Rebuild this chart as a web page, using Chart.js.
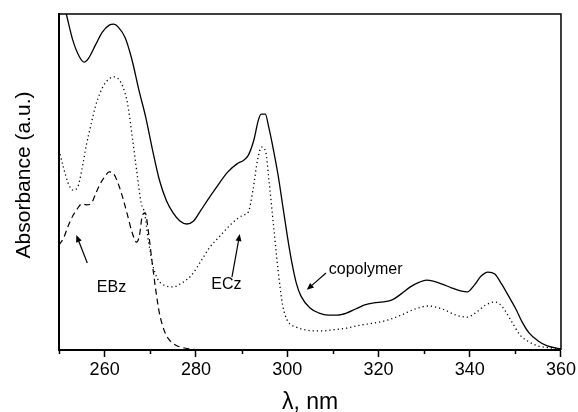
<!DOCTYPE html>
<html><head><meta charset="utf-8">
<script src="https://cdn.jsdelivr.net/npm/chart.js@4/dist/chart.umd.min.js"></script>
<style>html,body{margin:0;padding:0;background:#fff}#wrap{width:578px;height:412px;position:relative}</style>
</head><body><div id="wrap"><canvas id="c" width="578" height="412"></canvas></div>
<script>
// ---- data ----
const copolymerNm  = [250,251.6,253,254.5,255.5,256.5,258,259.5,261,262,263,264.5,266,267.5,269,270.5,272,273.5,275,276.5,278,279.5,281,283,285,287,289,290.5,291.5,292.7,293.7,294.3,295.2,296,297,298,299,300,301,302,303,305,307,309,311,313,315,317,319,321,323,325,327,329,330.5,332,334,336,338,339.5,341,342.5,344,345.5,347,348.5,350,351.5,353,355,357,360];
const copolymerAbs = [1.086,1.000,0.923,0.872,0.857,0.869,0.908,0.946,0.967,0.970,0.961,0.929,0.863,0.774,0.693,0.595,0.506,0.446,0.408,0.384,0.375,0.384,0.414,0.455,0.494,0.530,0.554,0.565,0.580,0.625,0.685,0.702,0.702,0.661,0.595,0.521,0.432,0.342,0.262,0.199,0.161,0.125,0.110,0.104,0.104,0.110,0.122,0.134,0.140,0.143,0.149,0.167,0.188,0.202,0.208,0.205,0.196,0.185,0.176,0.173,0.193,0.220,0.232,0.226,0.196,0.161,0.125,0.083,0.051,0.027,0.012,0.003];

const eczNm  = [250,251,252,253,254,255,256,257,258,259,260,261,262,263,264,265,266,267,268,268.8,269.5,270.5,271.5,273,275,277,279,281,283,285,287,289,290.5,291.5,292.5,293.5,294.4,295.3,296,297,298,299,300,302,304,306,308,310,313,316,319,322,325,328,331,334,337,339.5,341.5,343.5,345.5,347,349,351,353,355,358,360];
const eczAbs = [0.595,0.542,0.497,0.476,0.482,0.536,0.610,0.670,0.726,0.765,0.792,0.807,0.813,0.807,0.783,0.735,0.640,0.536,0.438,0.405,0.333,0.256,0.214,0.193,0.188,0.200,0.222,0.262,0.305,0.335,0.365,0.390,0.402,0.411,0.476,0.565,0.604,0.589,0.506,0.372,0.238,0.134,0.089,0.068,0.060,0.057,0.057,0.060,0.065,0.074,0.080,0.089,0.104,0.122,0.131,0.122,0.104,0.098,0.113,0.134,0.143,0.131,0.089,0.045,0.024,0.012,0.006,0.003];

const ebzNm  = [250,251,252,253,254,255,256,257,258,259,260,261,262,263,264,265,266,267,267.6,268.3,268.9,269.6,270.4,271.2,272,273,274,275.5,277.5,280,283];
const ebzAbs = [0.313,0.333,0.369,0.399,0.420,0.435,0.432,0.435,0.464,0.494,0.515,0.530,0.524,0.494,0.452,0.402,0.351,0.321,0.339,0.402,0.408,0.351,0.262,0.179,0.110,0.060,0.033,0.015,0.006,0.001,0.000];

const seriesNames = ['copolymer','ECz','EBz'];
const majorTicks = [260,280,300,320,340,360];
const minorTicks = [250,270,290,310,330,350];
const xTitle = 'λ, nm';
const yTitle = 'Absorbance (a.u.)';

// annotation labels: [text, labelNm, labelAbs, tailNm, tailAbs, headNm, headAbs]
const annotations = [
  ['EBz', 261.5, 0.185, 256.2, 0.259, 253.8, 0.342],
  ['ECz', 286.7, 0.196, 287.9, 0.217, 289.6, 0.345],
  ['copolymer', 317.2, 0.238, 308.5, 0.229, 304.3, 0.179]
];

const FONT = '"Liberation Sans", Arial, Helvetica, sans-serif';
const toPts = (xs, ys) => xs.map((x, i) => ({x, y: ys[i]}));

const extras = {
  id: 'extras',
  afterDraw(chart) {
    const {ctx, chartArea: a, scales: {x, y}} = chart;
    ctx.save();
    // top and right frame
    ctx.strokeStyle = '#000';
    ctx.lineWidth = 1.5;
    ctx.beginPath();
    ctx.moveTo(a.left, a.top); ctx.lineTo(a.right, a.top); ctx.lineTo(a.right, a.bottom);
    ctx.stroke();
    // minor ticks
    ctx.lineWidth = 1.5;
    minorTicks.forEach(v => {
      const px = Math.round(x.getPixelForValue(v)) + 0.5;
      ctx.beginPath(); ctx.moveTo(px, a.bottom); ctx.lineTo(px, a.bottom + 4); ctx.stroke();
    });
    // annotations
    ctx.fillStyle = '#000';
    ctx.font = '16px ' + FONT;
    ctx.textAlign = 'center';
    ctx.textBaseline = 'middle';
    annotations.forEach(([t, lx, ly, tx, ty, hx, hy]) => {
      ctx.fillText(t, x.getPixelForValue(lx), y.getPixelForValue(ly));
      const x0 = x.getPixelForValue(tx), y0 = y.getPixelForValue(ty);
      const x1 = x.getPixelForValue(hx), y1 = y.getPixelForValue(hy);
      const ang = Math.atan2(y1 - y0, x1 - x0);
      const hl = 7, hw = 3;
      ctx.lineWidth = 1.2;
      ctx.beginPath(); ctx.moveTo(x0, y0);
      ctx.lineTo(x1 - hl * Math.cos(ang) * 0.8, y1 - hl * Math.sin(ang) * 0.8); ctx.stroke();
      ctx.beginPath();
      ctx.moveTo(x1, y1);
      ctx.lineTo(x1 - hl * Math.cos(ang) + hw * Math.sin(ang), y1 - hl * Math.sin(ang) - hw * Math.cos(ang));
      ctx.lineTo(x1 - hl * Math.cos(ang) - hw * Math.sin(ang), y1 - hl * Math.sin(ang) + hw * Math.cos(ang));
      ctx.closePath(); ctx.fill();
    });
    // y title
    ctx.font = '21px ' + FONT;
    ctx.translate(24, 175);
    ctx.rotate(-Math.PI / 2);
    ctx.fillText(yTitle, 0, 0);
    ctx.restore();
  }
};

new Chart(document.getElementById('c'), {
  type: 'line',
  data: {
    datasets: [
      {label: seriesNames[0], data: toPts(copolymerNm, copolymerAbs), borderColor: '#000', borderWidth: 1.3, pointRadius: 0, cubicInterpolationMode: 'monotone', fill: false},
      {label: seriesNames[1], data: toPts(eczNm, eczAbs), borderColor: '#000', borderWidth: 1.3, borderDash: [1.2, 3], pointRadius: 0, cubicInterpolationMode: 'monotone', fill: false},
      {label: seriesNames[2], data: toPts(ebzNm, ebzAbs), borderColor: '#000', borderWidth: 1.2, borderDash: [6, 4], pointRadius: 0, cubicInterpolationMode: 'monotone', fill: false}
    ]
  },
  options: {
    responsive: false,
    animation: false,
    devicePixelRatio: 1,
    layout: {padding: {top: 14, right: 15, left: 0, bottom: 0}},
    plugins: {legend: {display: false}, tooltip: {enabled: false}},
    scales: {
      x: {
        type: 'linear', min: 250, max: 360,
        afterFit: s => { s.height = 62; },
        ticks: {stepSize: 10, autoSkip: false, maxRotation: 0, color: '#000', padding: 2,
          font: {family: FONT, size: 18},
          callback: v => majorTicks.includes(v) ? String(v) : ''},
        grid: {display: true, drawOnChartArea: false, drawTicks: true, tickLength: 7, tickWidth: 1.5,
          tickColor: c => (c.tick && majorTicks.includes(c.tick.value)) ? '#000' : 'rgba(0,0,0,0)'},
        border: {display: true, color: '#000', width: 2},
        title: {display: true, text: xTitle, color: '#000', font: {family: FONT, size: 23, lineHeight: 0.85}, padding: {top: 0, bottom: 0}}
      },
      y: {
        type: 'linear', min: 0, max: 1,
        afterFit: s => { s.width = 59; },
        ticks: {display: false},
        grid: {display: false},
        border: {display: true, color: '#000', width: 2},
        title: {display: false}
      }
    }
  },
  plugins: [extras]
});
</script>
</body></html>
